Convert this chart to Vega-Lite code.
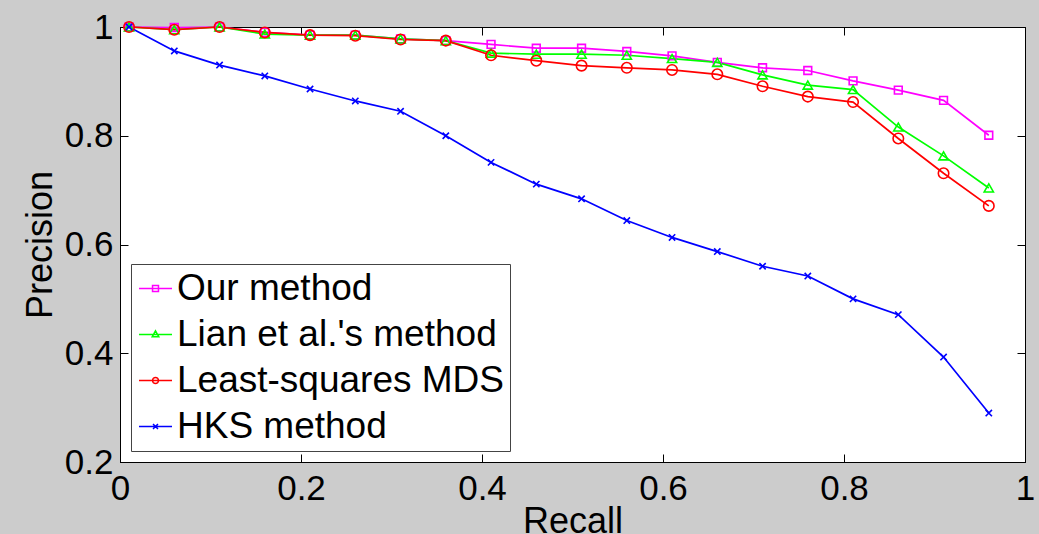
{
  "$schema": "https://vega.github.io/schema/vega-lite/v6.json",
  "autosize": {"type": "none"},
  "width": 905,
  "height": 435,
  "padding": {"left": 120, "top": 27, "right": 14, "bottom": 72},
  "background": "#cccccc",
  "config": {
    "view": {"fill": "white", "stroke": "black", "strokeWidth": 1},
    "font": "Liberation Sans",
    "axis": {
      "grid": false,
      "domainColor": "black",
      "domainWidth": 1,
      "tickColor": "black",
      "tickSize": -8,
      "tickWidth": 1,
      "labelFont": "Liberation Sans",
      "labelFontSize": 35,
      "labelColor": "black",
      "labelFlush": false,
      "labelOverlap": false,
      "titleFont": "Liberation Sans",
      "titleFontSize": 36,
      "titleFontWeight": "normal",
      "titleColor": "black"
    }
  },
  "data": {
    "values": [
      {"series": "Our method", "recall": 0.01, "precision": 1.0},
      {"series": "Our method", "recall": 0.06, "precision": 0.999},
      {"series": "Our method", "recall": 0.11, "precision": 1.0},
      {"series": "Our method", "recall": 0.16, "precision": 0.99},
      {"series": "Our method", "recall": 0.21, "precision": 0.985},
      {"series": "Our method", "recall": 0.26, "precision": 0.985},
      {"series": "Our method", "recall": 0.31, "precision": 0.978},
      {"series": "Our method", "recall": 0.36, "precision": 0.975},
      {"series": "Our method", "recall": 0.41, "precision": 0.968},
      {"series": "Our method", "recall": 0.46, "precision": 0.961},
      {"series": "Our method", "recall": 0.51, "precision": 0.961},
      {"series": "Our method", "recall": 0.56, "precision": 0.955},
      {"series": "Our method", "recall": 0.61, "precision": 0.947},
      {"series": "Our method", "recall": 0.66, "precision": 0.935},
      {"series": "Our method", "recall": 0.71, "precision": 0.925},
      {"series": "Our method", "recall": 0.76, "precision": 0.92},
      {"series": "Our method", "recall": 0.81, "precision": 0.901},
      {"series": "Our method", "recall": 0.86, "precision": 0.884},
      {"series": "Our method", "recall": 0.91, "precision": 0.865},
      {"series": "Our method", "recall": 0.96, "precision": 0.801},
      {"series": "Lian et al.'s method", "recall": 0.01, "precision": 1.0},
      {"series": "Lian et al.'s method", "recall": 0.06, "precision": 0.995},
      {"series": "Lian et al.'s method", "recall": 0.11, "precision": 1.0},
      {"series": "Lian et al.'s method", "recall": 0.16, "precision": 0.987},
      {"series": "Lian et al.'s method", "recall": 0.21, "precision": 0.985},
      {"series": "Lian et al.'s method", "recall": 0.26, "precision": 0.985},
      {"series": "Lian et al.'s method", "recall": 0.31, "precision": 0.978},
      {"series": "Lian et al.'s method", "recall": 0.36, "precision": 0.975},
      {"series": "Lian et al.'s method", "recall": 0.41, "precision": 0.952},
      {"series": "Lian et al.'s method", "recall": 0.46, "precision": 0.95},
      {"series": "Lian et al.'s method", "recall": 0.51, "precision": 0.95},
      {"series": "Lian et al.'s method", "recall": 0.56, "precision": 0.948},
      {"series": "Lian et al.'s method", "recall": 0.61, "precision": 0.942},
      {"series": "Lian et al.'s method", "recall": 0.66, "precision": 0.935},
      {"series": "Lian et al.'s method", "recall": 0.71, "precision": 0.912},
      {"series": "Lian et al.'s method", "recall": 0.76, "precision": 0.893},
      {"series": "Lian et al.'s method", "recall": 0.81, "precision": 0.885},
      {"series": "Lian et al.'s method", "recall": 0.86, "precision": 0.816},
      {"series": "Lian et al.'s method", "recall": 0.91, "precision": 0.763},
      {"series": "Lian et al.'s method", "recall": 0.96, "precision": 0.704},
      {"series": "Least-squares MDS", "recall": 0.01, "precision": 1.0},
      {"series": "Least-squares MDS", "recall": 0.06, "precision": 0.995},
      {"series": "Least-squares MDS", "recall": 0.11, "precision": 1.0},
      {"series": "Least-squares MDS", "recall": 0.16, "precision": 0.99},
      {"series": "Least-squares MDS", "recall": 0.21, "precision": 0.985},
      {"series": "Least-squares MDS", "recall": 0.26, "precision": 0.984},
      {"series": "Least-squares MDS", "recall": 0.31, "precision": 0.977},
      {"series": "Least-squares MDS", "recall": 0.36, "precision": 0.975},
      {"series": "Least-squares MDS", "recall": 0.41, "precision": 0.948},
      {"series": "Least-squares MDS", "recall": 0.46, "precision": 0.938},
      {"series": "Least-squares MDS", "recall": 0.51, "precision": 0.929},
      {"series": "Least-squares MDS", "recall": 0.56, "precision": 0.925},
      {"series": "Least-squares MDS", "recall": 0.61, "precision": 0.921},
      {"series": "Least-squares MDS", "recall": 0.66, "precision": 0.913},
      {"series": "Least-squares MDS", "recall": 0.71, "precision": 0.891},
      {"series": "Least-squares MDS", "recall": 0.76, "precision": 0.872},
      {"series": "Least-squares MDS", "recall": 0.81, "precision": 0.862},
      {"series": "Least-squares MDS", "recall": 0.86, "precision": 0.795},
      {"series": "Least-squares MDS", "recall": 0.91, "precision": 0.731},
      {"series": "Least-squares MDS", "recall": 0.96, "precision": 0.671},
      {"series": "HKS method", "recall": 0.01, "precision": 1.0},
      {"series": "HKS method", "recall": 0.06, "precision": 0.956},
      {"series": "HKS method", "recall": 0.11, "precision": 0.93},
      {"series": "HKS method", "recall": 0.16, "precision": 0.91},
      {"series": "HKS method", "recall": 0.21, "precision": 0.886},
      {"series": "HKS method", "recall": 0.26, "precision": 0.864},
      {"series": "HKS method", "recall": 0.31, "precision": 0.845},
      {"series": "HKS method", "recall": 0.36, "precision": 0.8},
      {"series": "HKS method", "recall": 0.41, "precision": 0.751},
      {"series": "HKS method", "recall": 0.46, "precision": 0.711},
      {"series": "HKS method", "recall": 0.51, "precision": 0.684},
      {"series": "HKS method", "recall": 0.56, "precision": 0.644},
      {"series": "HKS method", "recall": 0.61, "precision": 0.613},
      {"series": "HKS method", "recall": 0.66, "precision": 0.587},
      {"series": "HKS method", "recall": 0.71, "precision": 0.56},
      {"series": "HKS method", "recall": 0.76, "precision": 0.542},
      {"series": "HKS method", "recall": 0.81, "precision": 0.5},
      {"series": "HKS method", "recall": 0.86, "precision": 0.471},
      {"series": "HKS method", "recall": 0.91, "precision": 0.393},
      {"series": "HKS method", "recall": 0.96, "precision": 0.29}
    ]
  },
  "layer": [
    {
      "mark": {"type": "line", "strokeWidth": 1.7},
      "encoding": {
        "x": {
          "field": "recall", "type": "quantitative",
          "scale": {"domain": [0, 1], "nice": false, "zero": false},
          "axis": {
            "orient": "bottom", "values": [0, 0.2, 0.4, 0.6, 0.8, 1], "format": ".1~f",
            "labelPadding": 17, "title": "Recall",
            "titleX": 452.5, "titleY": 70, "titleBaseline": "alphabetic", "titleAlign": "center"
          }
        },
        "y": {
          "field": "precision", "type": "quantitative",
          "scale": {"domain": [0.2, 1], "nice": false, "zero": false},
          "axis": {
            "orient": "left", "values": [0.2, 0.4, 0.6, 0.8, 1], "format": ".1~f",
            "labelPadding": 15, "title": "Precision",
            "titleX": -69, "titleY": 217.5, "titleAngle": -90, "titleBaseline": "alphabetic", "titleAlign": "center"
          }
        },
        "color": {
          "field": "series", "type": "nominal",
          "scale": {
            "domain": ["Our method", "Lian et al.'s method", "Least-squares MDS", "HKS method"],
            "range": ["#ff00ff", "#00ff00", "#ff0000", "#0000ff"]
          },
          "legend": {
            "title": null,
            "orient": "none",
            "legendX": 11,
            "legendY": 237,
            "fillColor": "white",
            "strokeColor": "#444444",
            "padding": 6,
            "rowPadding": 8,
            "labelFont": "Liberation Sans",
            "labelFontSize": 37,
            "labelColor": "black",
            "labelLimit": 0,
            "labelOffset": 3,
            "symbolSize": 1089,
            "symbolStrokeWidth": 1.5,
            "symbolFillColor": "transparent",
            "encode": {
              "symbols": {
                "update": {
                  "shape": {"signal": "datum.value == 'Our method' ? 'M-1,0H1M-0.18,-0.18H0.18V0.18H-0.18Z' : datum.value == 'Least-squares MDS' ? 'M-1,0H1M0.18,0A0.18,0.18,0,1,1,-0.18,0A0.18,0.18,0,1,1,0.18,0' : datum.value == 'HKS method' ? 'M-1,0H1M-0.15,-0.15L0.15,0.15M-0.15,0.15L0.15,-0.15' : 'M-1,0H1M0,-0.22L0.2,0.14H-0.2Z'"},
                  "size": {"value": 1089},
                  "fill": {"value": "transparent"},
                  "strokeWidth": {"value": 1.5}
                }
              }
            }
          }
        }
      }
    },
    {
      "transform": [{"filter": "datum.series == 'Our method'"}],
      "mark": {"type": "point", "shape": "square", "size": 60, "filled": false, "strokeWidth": 1.6, "opacity": 1},
      "encoding": {
        "x": {
          "field": "recall", "type": "quantitative",
          "axis": {"orient": "top", "values": [0, 0.2, 0.4, 0.6, 0.8, 1], "labels": false, "title": null}
        },
        "y": {
          "field": "precision", "type": "quantitative",
          "axis": {"orient": "right", "values": [0.2, 0.4, 0.6, 0.8, 1], "labels": false, "title": null}
        },
        "color": {"field": "series", "type": "nominal", "legend": null}
      }
    },
    {
      "transform": [{"filter": "datum.series == 'Lian et al.\\'s method'"}],
      "mark": {"type": "point", "shape": "triangle-up", "size": 85, "filled": false, "strokeWidth": 1.6, "opacity": 1},
      "encoding": {
        "x": {"field": "recall", "type": "quantitative", "axis": null},
        "y": {"field": "precision", "type": "quantitative", "axis": null},
        "color": {"field": "series", "type": "nominal", "legend": null}
      }
    },
    {
      "transform": [{"filter": "datum.series == 'Least-squares MDS'"}],
      "mark": {"type": "point", "shape": "circle", "size": 110, "filled": false, "strokeWidth": 1.6, "opacity": 1},
      "encoding": {
        "x": {"field": "recall", "type": "quantitative", "axis": null},
        "y": {"field": "precision", "type": "quantitative", "axis": null},
        "color": {"field": "series", "type": "nominal", "legend": null}
      }
    },
    {
      "transform": [{"filter": "datum.series == 'HKS method'"}],
      "mark": {"type": "point", "shape": "M-1,-1L1,1M-1,1L1,-1", "size": 40, "filled": false, "strokeWidth": 1.6, "opacity": 1},
      "encoding": {
        "x": {"field": "recall", "type": "quantitative", "axis": null},
        "y": {"field": "precision", "type": "quantitative", "axis": null},
        "color": {"field": "series", "type": "nominal", "legend": null}
      }
    }
  ],
  "resolve": {"axis": {"x": "independent", "y": "independent"}}
}
